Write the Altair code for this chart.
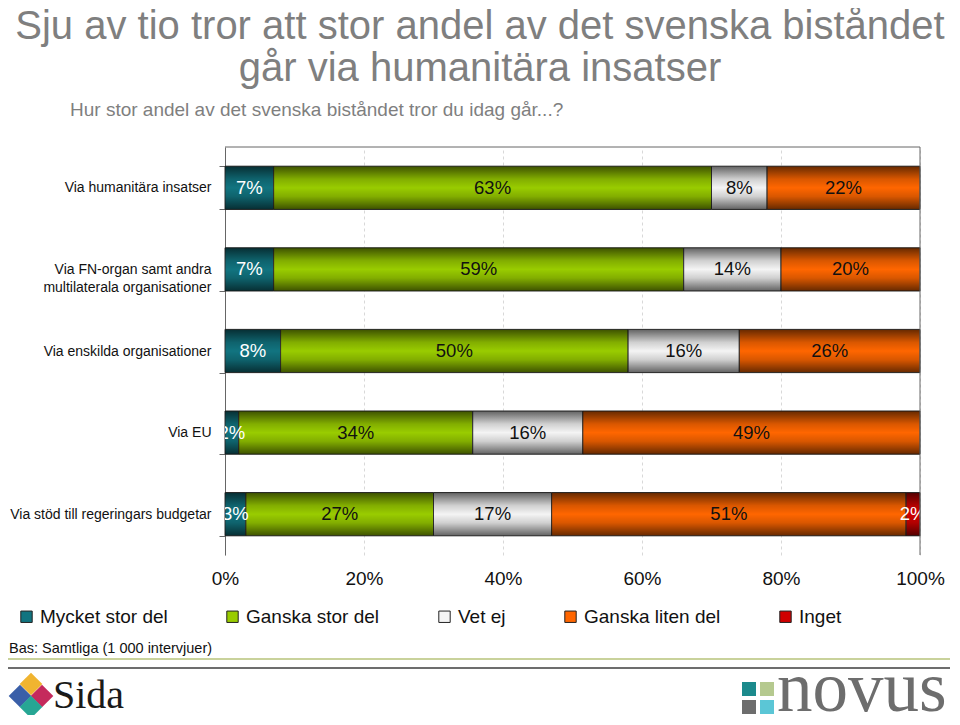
import altair as alt
import pandas as pd

# ---------------- data ----------------
categories = [
    "Via humanitära insatser",
    "Via FN-organ samt andra\nmultilaterala organisationer",
    "Via enskilda organisationer",
    "Via EU",
    "Via stöd till regeringars budgetar",
]
responses = ["Mycket stor del", "Ganska stor del", "Vet ej", "Ganska liten del", "Inget"]
mycket_stor = [7, 7, 8, 2, 3]
ganska_stor = [63, 59, 50, 34, 27]
vet_ej = [8, 14, 16, 16, 17]
ganska_liten = [22, 20, 26, 49, 51]
inget = [0, 0, 0, 0, 2]
colors = ["#117480", "#99cc00", "#f4f4f4", "#ff6600", "#d00000"]
x_ticks = [0, 0.2, 0.4, 0.6, 0.8, 1.0]

series = [mycket_stor, ganska_stor, vet_ej, ganska_liten, inget]
rows = []
for i, cat in enumerate(categories):
    for j, resp in enumerate(responses):
        rows.append({"category": cat, "response": resp, "order": j, "value": series[j][i]})
df = pd.DataFrame(rows)

FONT = "Liberation Sans, Arial, Helvetica, sans-serif"
TITLE_FONT = FONT

base = (
    alt.Chart(df)
    .transform_filter("datum.value > 0")
    .transform_stack(
        stack="value",
        groupby=["category"],
        as_=["x0", "x1"],
        offset="normalize",
        sort=[alt.SortField("order", order="ascending")],
    )
)

y_enc = alt.Y(
    "category:N",
    sort=categories,
    scale=alt.Scale(paddingInner=0.47, paddingOuter=0.235),
    axis=alt.Axis(
        title=None,
        labelExpr="split(datum.label, '\\n')",
        labelFontSize=14,
        labelFont=FONT,
        labelColor="#111",
        labelPadding=8,
        labelLimit=400,
        labelLineHeight=18,
        tickBand="extent",
        tickSize=6,
        tickColor="#666",
        domainColor="#666",
        grid=False,
    ),
)

x_axis = alt.Axis(
    title=None,
    format="%",
    values=x_ticks,
    labelFontSize=19,
    labelFont=FONT,
    labelColor="#111",
    labelFlush=False,
    labelOverlap=False,
    labelPadding=14,
    domain=False,
    ticks=False,
    grid=True,
    gridDash=[3, 3],
    gridColor="#d8d8d8",
)
x_scale = alt.Scale(domain=[0, 1], nice=False)

bars = base.mark_bar(stroke="#333333", strokeWidth=1).encode(
    y=y_enc,
    x=alt.X("x0:Q", scale=x_scale, axis=x_axis),
    x2="x1:Q",
    color=alt.Color(
        "response:N",
        scale=alt.Scale(domain=responses, range=colors),
        legend=alt.Legend(
            title=None,
            orient="none",
            legendX=-208,
            legendY=460,
            direction="horizontal",
            columns=5,
            symbolType="square",
            symbolSize=130,
            symbolStrokeColor="#222",
            symbolStrokeWidth=1,
            labelFontSize=19,
            labelFont=FONT,
            labelColor="#111",
            labelOffset=4,
            columnPadding=55,
            labelLimit=300,
        ),
    ),
)

shade_grad = alt.LinearGradient(
    gradient="linear",
    x1=0, x2=0, y1=0, y2=1,
    stops=[
        alt.GradientStop(color="rgba(0,0,0,0.6)", offset=0),
        alt.GradientStop(color="rgba(0,0,0,0.15)", offset=0.3),
        alt.GradientStop(color="rgba(0,0,0,0)", offset=0.5),
        alt.GradientStop(color="rgba(0,0,0,0.15)", offset=0.7),
        alt.GradientStop(color="rgba(0,0,0,0.6)", offset=1),
    ],
)
shade = base.mark_bar(fill=shade_grad).encode(
    y=y_enc,
    x=alt.X("x0:Q", scale=x_scale, axis=x_axis),
    x2="x1:Q",
)

labels = (
    base.transform_calculate(mid="(datum.x0 + datum.x1) / 2", label="datum.value + '%'")
    .mark_text(fontSize=18.5, font=FONT, clip=True, baseline="middle")
    .encode(
        y=y_enc,
        x=alt.X("mid:Q", scale=x_scale, axis=x_axis),
        text="label:N",
        color=alt.condition(
            "datum.response == 'Mycket stor del' || datum.response == 'Inget'",
            alt.value("white"),
            alt.value("#111"),
        ),
    )
)

one = alt.Data(values=[{}])


def txt(text, x, y, size, color, font=FONT, align="left"):
    return alt.Chart(one).mark_text(
        text=text, fontSize=size, color=color, font=font, align=align, baseline="alphabetic"
    ).encode(x=alt.value(x), y=alt.value(y))


def hrule(x, x2, y, color, width=1):
    return alt.Chart(one).mark_rule(color=color, strokeWidth=width).encode(
        x=alt.value(x), x2=alt.value(x2), y=alt.value(y)
    )


def vrule(x, y, y2, color, width=1):
    return alt.Chart(one).mark_rule(color=color, strokeWidth=width).encode(
        x=alt.value(x), y=alt.value(y), y2=alt.value(y2)
    )


def sq(x, y, color, size, angle=0):
    return alt.Chart(one).mark_square(color=color, size=size, opacity=1, angle=angle).encode(
        x=alt.value(x), y=alt.value(y)
    )


decor = [
    hrule(0, 695, 0, "#666"),
    vrule(695, 0, 408, "#666"),
    txt("Sju av tio tror att stor andel av det svenska biståndet", 255, -108, 40, "#7f7f7f", TITLE_FONT, "center"),
    txt("går via humanitära insatser", 255, -66, 40, "#7f7f7f", TITLE_FONT, "center"),
    txt("Hur stor andel av det svenska biståndet tror du idag går...?", -155, -31, 19, "#7f7f7f", TITLE_FONT),
    txt("Bas: Samtliga (1 000 intervjuer)", -216, 506, 14.5, "#111"),
    hrule(-217, 727, 512, "#c9d29b", 2),
    hrule(-217, 727, 521, "#6d6d6d", 2),
    # Sida logo
    sq(-194, 537, "#f0b430", 256, 45),
    sq(-205, 549, "#3a5fa8", 256, 45),
    sq(-183, 549, "#c52a5c", 256, 45),
    sq(-194, 560, "#27a694", 256, 45),
    txt("Sida", -172, 561, 40, "#1a1a1a", "Liberation Serif, serif"),
    # Novus logo
    sq(524, 542, "#1b8a8c", 196),
    sq(542, 542, "#b5c98f", 196),
    sq(524, 560, "#6d6d6d", 196),
    sq(542, 560, "#5bc6d6", 196),
    txt("novus", 552, 564, 71, "#6d6d6d", "Liberation Serif, serif"),
]

chart = (
    alt.layer(bars, shade, labels, *decor)
    .properties(
        width=695,
        height=408,
        padding={"left": 217, "top": 139, "right": 30, "bottom": 160},
        autosize=alt.AutoSizeParams(type="none"),
        background="white",
    )
    .configure_view(stroke=None)
)

chart.save("out.html", embed_options={"renderer": "svg", "actions": False})
